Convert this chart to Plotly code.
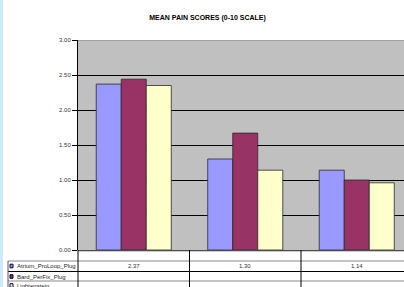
import plotly.graph_objects as go

# ---- data ----
categories = ["", " ", "  "]
series_names = ["Atrium_ProLoop_Plug", "Bard_PerFix_Plug", "Lightenstein"]
atrium = [2.37, 1.30, 1.14]
bard = [2.44, 1.67, 1.00]
lichtenstein = [2.35, 1.14, 0.96]
y_ticks = [0.0, 0.5, 1.0, 1.5, 2.0, 2.5, 3.0]
title_text = "MEAN PAIN SCORES (0-10 SCALE)"

colors = ["#9999FF", "#993366", "#FFFFCC"]
series_values = [atrium, bard, lichtenstein]

W, H = 404, 287
ML, MT, MB = 78, 40, 37
PW = W - ML
PH = H - MT - MB
FONT = "Liberation Sans, Arial, sans-serif"

def px_x(p):
    return (p - ML) / PW

def px_y(p):
    return (H - MB - p) / PH

fig = go.Figure()
xs = list(range(len(categories)))
for name, vals, col in zip(series_names, series_values, colors):
    fig.add_trace(go.Bar(
        x=xs, y=vals, name=name,
        marker=dict(color=col, line=dict(color="#2a2a2a", width=0.8)),
        showlegend=False, hoverinfo="skip",
    ))

# category spacing ~111.5 px; plot area cut at right edge
cat_px = 111.5
x_hi = len(categories) - 0.5 - (ML + cat_px * len(categories) - W) / cat_px

shapes = []
# light blue strip at left edge
shapes.append(dict(type="rect", xref="paper", yref="paper",
                   x0=px_x(0), x1=px_x(3), y0=px_y(H + 5), y1=px_y(-5),
                   fillcolor="#CCEBFA", line=dict(width=0), layer="above"))
# top border in gray
shapes.append(dict(type="line", xref="paper", yref="y", x0=0, x1=1, y0=3, y1=3,
                   line=dict(color="#808080", width=1), layer="above"))
# table lines
row_lines = [(251, "#9a9a9a", px_x(ML)), (261, "#8a8a8a", px_x(8)),
             (271.5, "#000000", px_x(8)), (281, "#8a8a8a", px_x(8))]
for py, col, x0 in row_lines:
    shapes.append(dict(type="line", xref="paper", yref="paper", x0=x0, x1=1,
                       y0=px_y(py), y1=px_y(py), line=dict(color=col, width=1)))
# vertical lines of table
shapes.append(dict(type="line", xref="paper", yref="paper", x0=0, x1=0,
                   y0=0, y1=px_y(H + 2), line=dict(color="#000000", width=1)))
shapes.append(dict(type="line", xref="paper", yref="paper", x0=px_x(8), x1=px_x(8),
                   y0=px_y(261), y1=px_y(H + 2), line=dict(color="#555555", width=1)))
for i in range(len(categories) - 1):
    shapes.append(dict(type="line", xref="x", yref="paper", x0=i + 0.5, x1=i + 0.5,
                       y0=0, y1=px_y(H + 2), line=dict(color="#000000", width=1)))

annotations = []
row_centers = [266, 276.5, 285.5]
for name, col, yc in zip(series_names, colors, row_centers):
    shapes.append(dict(type="rect", xref="paper", yref="paper",
                       x0=px_x(10), x1=px_x(13), y0=px_y(yc + 1.8), y1=px_y(yc - 1.8),
                       fillcolor=col, line=dict(color="#000033", width=1)))
    annotations.append(dict(text=name, xref="paper", yref="paper",
                            x=px_x(15), y=px_y(yc), xanchor="left", yanchor="middle",
                            showarrow=False, font=dict(family=FONT, size=6, color="#222")))
for i, v in enumerate(atrium):
    annotations.append(dict(text=f"{v:.2f}", xref="x", yref="paper",
                            x=i, y=px_y(266), xanchor="center", yanchor="middle",
                            showarrow=False, font=dict(family=FONT, size=6, color="#333")))

fig.update_layout(
    width=W, height=H,
    margin=dict(l=ML, r=0, t=MT, b=MB, pad=0),
    paper_bgcolor="white", plot_bgcolor="#C0C0C0",
    barmode="group", bargap=0.327, bargroupgap=0,
    title=dict(text=f"<b>{title_text}</b>", x=(207.5) / W, xanchor="center",
               y=1 - 17.7 / H, yanchor="middle", yref="container",
               font=dict(family=FONT, size=7, color="#000")),
    xaxis=dict(range=[-0.5, x_hi], showticklabels=False, showgrid=False,
               zeroline=False, ticks="", showline=False, fixedrange=True),
    yaxis=dict(range=[0, 3], tickvals=y_ticks, tickformat=".2f",
               showgrid=True, gridcolor="#000000", gridwidth=1,
               showline=True, linecolor="#000000", linewidth=1,
               zeroline=True, zerolinecolor="#000000", zerolinewidth=1,
               ticks="outside", ticklen=5, tickcolor="#000000",
               tickfont=dict(family=FONT, size=6, color="#333")),
    shapes=shapes, annotations=annotations,
)

fig.write_html("out.html", config={"displayModeBar": False},
               post_script="document.body.style.margin='0px';document.body.style.overflow='hidden';")
